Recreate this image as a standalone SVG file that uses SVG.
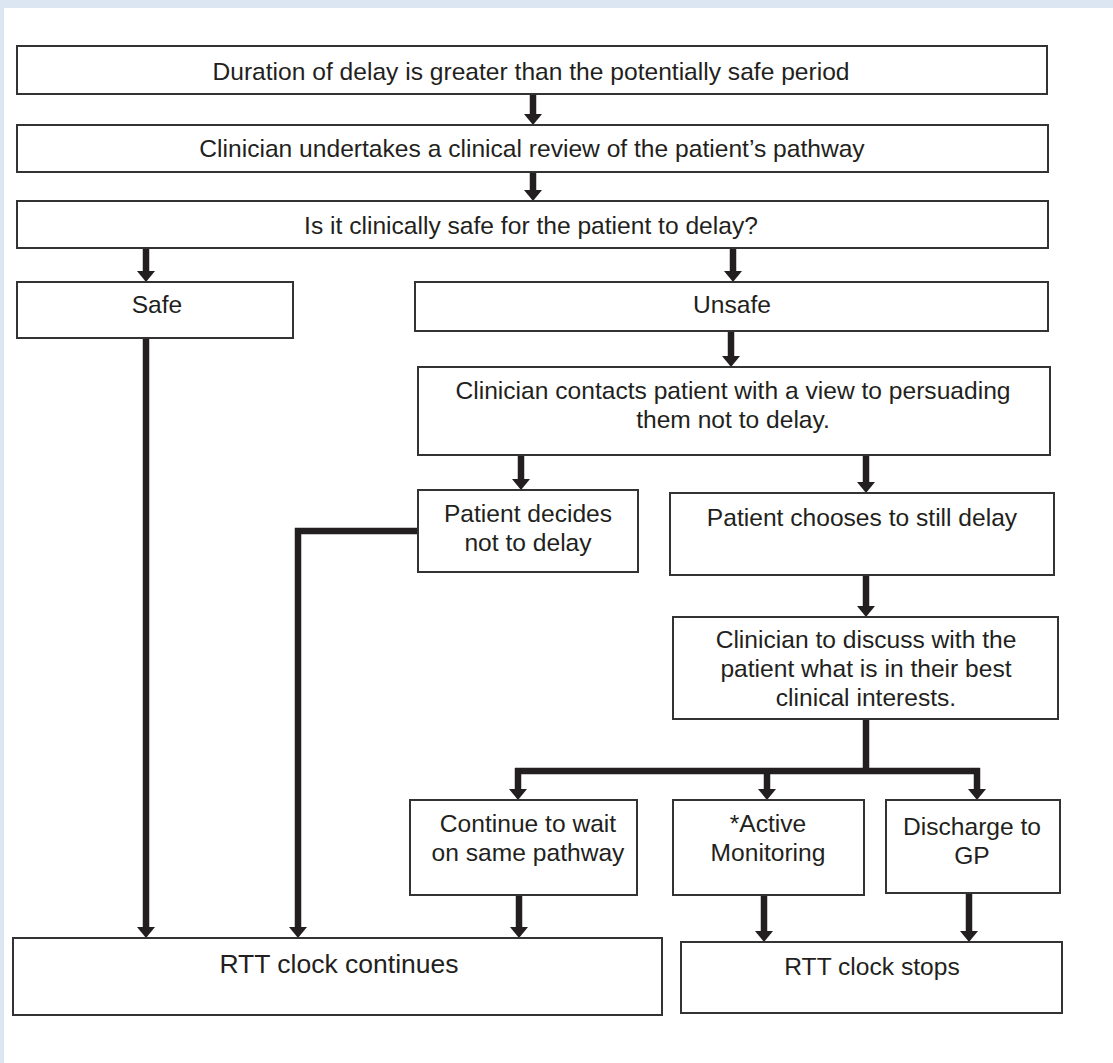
<svg xmlns="http://www.w3.org/2000/svg" width="1113" height="1063" viewBox="0 0 1113 1063">
<style>
.box{fill:#fff;stroke:#333;stroke-width:2}
.t{font-family:"Liberation Sans",Arial,sans-serif;font-size:24.6px;fill:#231f20;text-anchor:middle}
.c{fill:none;stroke:#231f20;stroke-width:6.5}
</style>
<defs>
<marker id="ah" markerUnits="userSpaceOnUse" viewBox="0 0 11 18" refX="0" refY="9" markerWidth="11" markerHeight="18" orient="auto">
<path d="M0,0 L11,9 L0,18 z" fill="#231f20"/>
</marker>
</defs>
<rect x="0" y="0" width="1113" height="1063" fill="#dce6f2"/>
<rect x="4" y="8" width="1109" height="1055" fill="#fff"/>
<g id="connectors">
<path class="c" d="M533,94 V114" marker-end="url(#ah)"/>
<path class="c" d="M533,172 V190" marker-end="url(#ah)"/>
<path class="c" d="M146,248 V271" marker-end="url(#ah)"/>
<path class="c" d="M733,248 V271" marker-end="url(#ah)"/>
<path class="c" d="M731,331 V356" marker-end="url(#ah)"/>
<path class="c" d="M521,455 V479" marker-end="url(#ah)"/>
<path class="c" d="M866,455 V482" marker-end="url(#ah)"/>
<path class="c" d="M866,575 V606" marker-end="url(#ah)"/>
<path class="c" d="M866,719 V771"/>
<path class="c" d="M515,771 H980"/>
<path class="c" d="M518,768 V789" marker-end="url(#ah)"/>
<path class="c" d="M767,768 V789" marker-end="url(#ah)"/>
<path class="c" d="M977,768 V789" marker-end="url(#ah)"/>
<path class="c" d="M146,338 V927" marker-end="url(#ah)"/>
<path class="c" d="M418,531 H298 V927" marker-end="url(#ah)"/>
<path class="c" d="M519,895 V927" marker-end="url(#ah)"/>
<path class="c" d="M764,895 V931" marker-end="url(#ah)"/>
<path class="c" d="M969,893 V931" marker-end="url(#ah)"/>
</g>
<g id="n1"><rect class="box" x="17" y="46" width="1030" height="48"/><text class="t" x="531" y="80">Duration of delay is greater than the potentially safe period</text></g>
<g id="n2"><rect class="box" x="17" y="125" width="1031" height="47"/><text class="t" x="532" y="157">Clinician undertakes a clinical review of the patient’s pathway</text></g>
<g id="n3"><rect class="box" x="17" y="201" width="1031" height="47"/><text class="t" x="531" y="234">Is it clinically safe for the patient to delay?</text></g>
<g id="n4"><rect class="box" x="17" y="282" width="276" height="56"/><text class="t" x="157" y="313">Safe</text></g>
<g id="n5"><rect class="box" x="415" y="282" width="633" height="49"/><text class="t" x="732" y="313">Unsafe</text></g>
<g id="n6"><rect class="box" x="418" y="367" width="632" height="88"/><text class="t" x="733" y="399">Clinician contacts patient with a view to persuading</text><text class="t" x="733" y="428">them not to delay.</text></g>
<g id="n7"><rect class="box" x="418" y="490" width="220" height="82"/><text class="t" x="528" y="522">Patient decides</text><text class="t" x="528" y="551">not to delay</text></g>
<g id="n8"><rect class="box" x="670" y="493" width="384" height="82"/><text class="t" x="862" y="526">Patient chooses to still delay</text></g>
<g id="n9"><rect class="box" x="673" y="617" width="385" height="102"/><text class="t" x="866" y="648">Clinician to discuss with the</text><text class="t" x="866" y="677">patient what is in their best</text><text class="t" x="866" y="706">clinical interests.</text></g>
<g id="n10"><rect class="box" x="410" y="800" width="227" height="95"/><text class="t" x="528" y="832">Continue to wait</text><text class="t" x="528" y="861">on same pathway</text></g>
<g id="n11"><rect class="box" x="673" y="800" width="191" height="95"/><text class="t" x="768" y="832">*Active</text><text class="t" x="768" y="861">Monitoring</text></g>
<g id="n12"><rect class="box" x="886" y="800" width="174" height="93"/><text class="t" x="972" y="835">Discharge to</text><text class="t" x="972" y="864">GP</text></g>
<g id="n13"><rect class="box" x="13" y="938" width="649" height="77"/><text class="t" x="339" y="973" style="font-size:26.5px">RTT clock continues</text></g>
<g id="n14"><rect class="box" x="681" y="942" width="381" height="71"/><text class="t" x="872" y="975">RTT clock stops</text></g>
</svg>
